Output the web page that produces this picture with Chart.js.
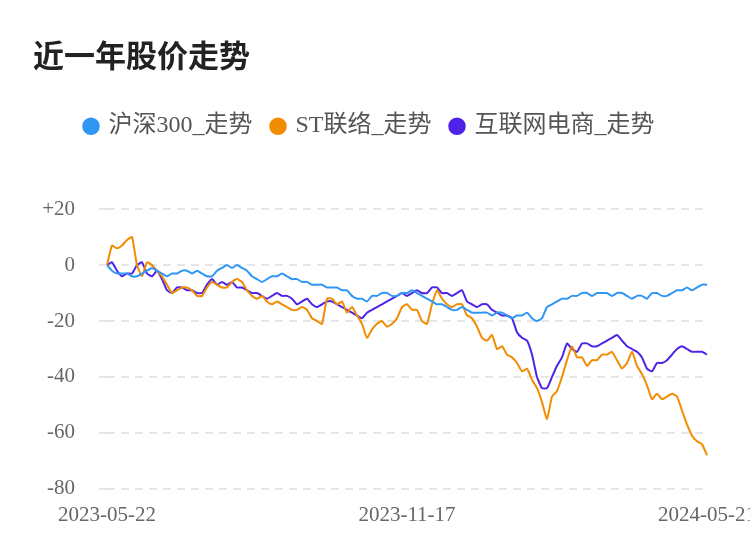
<!DOCTYPE html>
<html><head><meta charset="utf-8">
<script src="https://cdn.jsdelivr.net/npm/chart.js@4"></script>
<style>html,body{margin:0;padding:0;background:#fff}#w{width:750px;height:558px}</style>
</head><body><div id="w"><canvas id="c"></canvas></div>
<script>
const seriesNames = ['沪深300_走势','ST联络_走势','互联网电商_走势'];
const hs300 = [0,-2,-3,-3,-3,-4,-4,-3,-2,-1,-2,-3,-4,-3,-3,-2,-2,-3,-2,-3,-4,-4,-2,-1,0,-1,0,-1,-2,-4,-5,-6,-5,-4,-4,-3,-4,-5,-5,-6,-6,-7,-7,-7,-8,-8,-8,-9,-9,-11,-12,-12,-13,-11,-11,-10,-10,-11,-11,-10,-10,-9,-10,-11,-12,-13,-14,-14,-15,-16,-16,-15,-16,-17,-17,-17,-17,-18,-17,-17,-18,-19,-18,-18,-17,-19,-20,-19,-15,-14,-13,-12,-12,-11,-11,-10,-10,-11,-10,-10,-10,-11,-10,-10,-11,-12,-11,-11,-12,-10,-10,-11,-11,-10,-9,-9,-8,-9,-8,-7,-7];
const stLianluo = [0,7,6,7,9,10,0,-4,1,0,-2,-4,-7,-10,-9,-8,-8,-9,-11,-11,-8,-6,-7,-8,-8,-6,-5,-6,-9,-11,-12,-11,-13,-14,-13,-14,-15,-16,-16,-15,-16,-19,-20,-21,-12,-12,-14,-13,-17,-15,-18,-21,-26,-23,-21,-20,-22,-21,-19,-15,-14,-16,-16,-20,-21,-14,-9,-12,-14,-15,-14,-14,-18,-19,-22,-26,-27,-25,-30,-29,-32,-33,-35,-38,-37,-41,-44,-49,-55,-47,-45,-40,-34,-29,-33,-33,-36,-34,-34,-32,-32,-31,-34,-37,-35,-31,-36,-39,-43,-48,-46,-48,-47,-46,-47,-52,-57,-61,-63,-64,-68];
const hulianwang = [0,1,-2,-4,-3,-3,0,1,-3,-4,-2,-5,-9,-10,-8,-8,-9,-9,-10,-10,-7,-5,-7,-6,-7,-6,-8,-8,-9,-10,-10,-11,-12,-11,-10,-11,-11,-12,-14,-13,-12,-14,-15,-14,-13,-13,-14,-15,-16,-17,-18,-19,-17,-16,-15,-14,-13,-12,-11,-10,-11,-10,-9,-10,-10,-8,-8,-10,-10,-11,-10,-9,-13,-14,-15,-14,-14,-16,-17,-18,-18,-19,-24,-26,-27,-32,-40,-44,-44,-40,-36,-33,-28,-30,-31,-28,-28,-29,-29,-28,-27,-26,-25,-27,-29,-30,-31,-33,-37,-38,-35,-35,-34,-32,-30,-29,-30,-31,-31,-31,-32];
const tickDates = {0:'2023-05-22',60:'2023-11-17',120:'2024-05-21'};
const yTicks = [20,0,-20,-40,-60,-80];
const labels = hs300.map((_,i)=>tickDates[i]||'');
const colors = ['#2f96f3','#f28c00','#4f22e8'];
const serif = 'Liberation Serif';
const legendGap = {id:'legendGap',beforeInit(chart){const f=chart.legend.fit;chart.legend.fit=function(){f.call(this);this.height+=61;};}};
new Chart(document.getElementById('c'),{
 type:'line',
 plugins:[legendGap],
 data:{labels,datasets:[hs300,stLianluo,hulianwang].map((d,k)=>({label:seriesNames[k],data:d,borderColor:colors[k],backgroundColor:colors[k],borderWidth:2,pointRadius:0,tension:0.15}))},
 options:{responsive:true,maintainAspectRatio:false,animation:false,
  layout:{padding:{left:33,right:43,top:37,bottom:24}},
  plugins:{
   title:{display:true,text:'近一年股价走势',align:'start',color:'#222',font:{size:31,weight:'bold',family:'Noto Sans CJK SC'},padding:{top:0,bottom:20},},
   legend:{labels:{usePointStyle:true,pointStyle:'circle',boxWidth:11,boxHeight:11,color:'#555',font:{size:24,family:serif+', Noto Sans CJK SC'},padding:20},},
   tooltip:{enabled:false}},
  scales:{
   x:{grid:{display:false},border:{display:false},afterFit:s=>{s.paddingLeft=0;s.paddingRight=0;},ticks:{autoSkip:false,maxRotation:0,color:'#666',font:{size:21,family:serif},padding:6,callback:(v,i)=>labels[i]}},
   y:{min:-80,max:20,afterFit:s=>{s.width=74},afterBuildTicks:s=>{s.ticks=yTicks.map(v=>({value:v}))},
      grid:{color:'#e6e6e6',lineWidth:2},border:{display:false,dash:[8,6]},
      ticks:{color:'#666',font:{size:21,family:serif},padding:24,callback:v=>v>0?'+'+v:String(v)}}
  }}
});
</script></body></html>
